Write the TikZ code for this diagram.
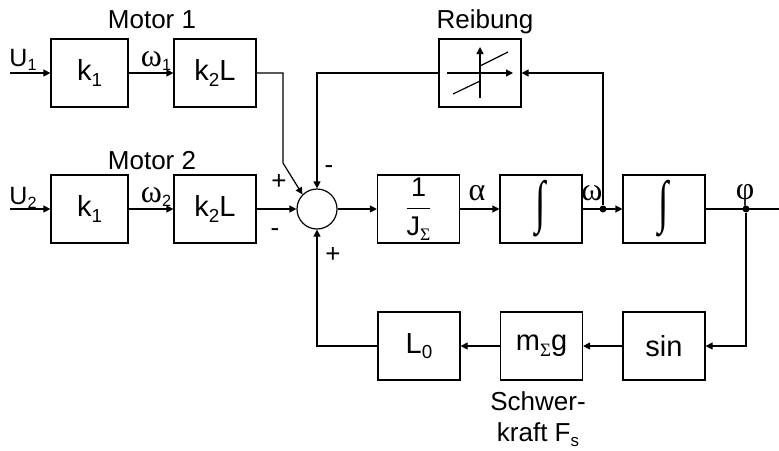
\documentclass[tikz,border=0pt]{standalone}
\usepackage{amsmath}
\usepackage{fontspec}
\setmainfont{Liberation Sans}
\newfontfamily\grk{Liberation Serif}
\usetikzlibrary{arrows.meta}
\newcommand{\lo}[1]{\raisebox{-0.35ex}{\scalebox{0.65}{#1}}}
\newcommand{\integ}{{\grk\fontsize{17}{18}\selectfont\scalebox{1.1}[1.7]{∫}}}

\begin{document}
\begin{tikzpicture}[x=0.5pt, y=-0.5pt, >={Triangle[length=3.5pt, width=3.5pt]}, line width=0.6pt,
  block/.style={draw, minimum width=41pt, minimum height=34pt, inner sep=0pt, font=\fontsize{14.5}{16}\selectfont},
  sumnode/.style={draw, circle, minimum size=20pt, inner sep=0pt},
  tap/.style={circle, fill, inner sep=0pt, minimum size=3.5pt},
  lbl/.style={font=\fontsize{13}{15.5}\selectfont, inner sep=1pt, anchor=base},
  sig/.style={font=\fontsize{12.5}{14}\selectfont, inner sep=1pt, anchor=base},
  grsig/.style={font=\grk\fontsize{16}{16}\selectfont, inner sep=1pt, anchor=base},
  sgn/.style={font=\fontsize{13}{14}\selectfont, inner sep=1pt}]
\useasboundingbox (0,0) rectangle (779,450);
% motor 1 (upper row)
\node[lbl] (m1) at (152,28) {Motor 1};
\coordinate (u1) at (10,73);
\node[block, minimum width=38.5pt] (ka) at (89.5,73) {k\lo{1}};
\node[block] (kla) at (215,73) {k\lo{2}L};
\node[sig] (u1l) at (23,66) {U\lo{1}};
\node[sig] (w1l) at (156,66) {{\grk\fontsize{16}{16}\selectfont ω}\lo{1}};
\draw[->] (u1) -- (ka.west);
\draw[->] (ka.east) -- (kla.west);
% motor 2 (lower row)
\node[lbl] (m2) at (152,169) {Motor 2};
\coordinate (u2) at (10,209);
\node[block, minimum width=38.5pt] (kb) at (89.5,209) {k\lo{1}};
\node[block] (klb) at (215,209) {k\lo{2}L};
\node[sig] (u2l) at (23,204) {U\lo{2}};
\node[sig] (w2l) at (156,202) {{\grk\fontsize{16}{16}\selectfont ω}\lo{2}};
\draw[->] (u2) -- (kb.west);
\draw[->] (kb.east) -- (klb.west);
% summing point
\node[sumnode] (sum) at (317,209) {};
\coordinate (bend1) at (283,163);
\draw[->] (kla.east) -| (bend1) -- (sum.135);
\draw[->] (klb.east) -- (sum.west);
\node[sgn] (p1) at (279,182) {+};
\node[sgn] (n1) at (275,233) {-};
\node[sgn] (n2) at (329,170) {-};
\node[sgn] (p2) at (333,255) {+};
% forward path
\node[block, font=\fontsize{13.5}{15}\selectfont] (invJ) at (418.5,209) {$\dfrac{\text{1}}{\text{J\lo{\grk Σ}}}$};
\node[block] (int1) at (541,209) {\integ};
\node[block] (int2) at (664,209) {\integ};
\node[tap] (wtap) at (603,209) {};
\node[tap] (phitap) at (746,209) {};
\coordinate (out) at (787,209);
\draw[->] (sum.east) -- (invJ.west);
\draw[->] (invJ.east) -- (int1.west);
\draw[->] (int1.east) -- (int2.west);
\draw[->] (int2.east) -- (out);
\node[grsig] (al) at (477,200) {α};
\node[grsig] (wl) at (592,200) {ω};
\node[grsig] (phil) at (745,199) {φ};
% friction
\node[lbl] (rl) at (485,28) {Reibung};
\node[block] (fric) at (480,73) {};
\draw[->] (447,73) -- (513,73);
\draw[->] (480,98) -- (480,47);
\draw (453,94) -- (480,81);
\draw (480,66) -- (508,52);
\draw[->] (wtap) |- (fric.east);
\draw[->] (fric.west) -| (sum.north);
% gravity feedback
\node[block] (sin) at (664,346) {sin};
\node[block] (mg) at (541.5,346) {m\lo{\grk Σ}g};
\node[block] (L0) at (419,346) {L\lo{0}};
\node[font=\fontsize{13}{15.5}\selectfont, align=center] (sk) at (538,419) {Schwer-\\kraft F\lo{s}};
\draw[->] (phitap) |- (sin.east);
\draw[->] (sin.west) -- (mg.east);
\draw[->] (mg.west) -- (L0.east);
\draw[->] (L0.west) -| (sum.south);
\end{tikzpicture}
\end{document}
